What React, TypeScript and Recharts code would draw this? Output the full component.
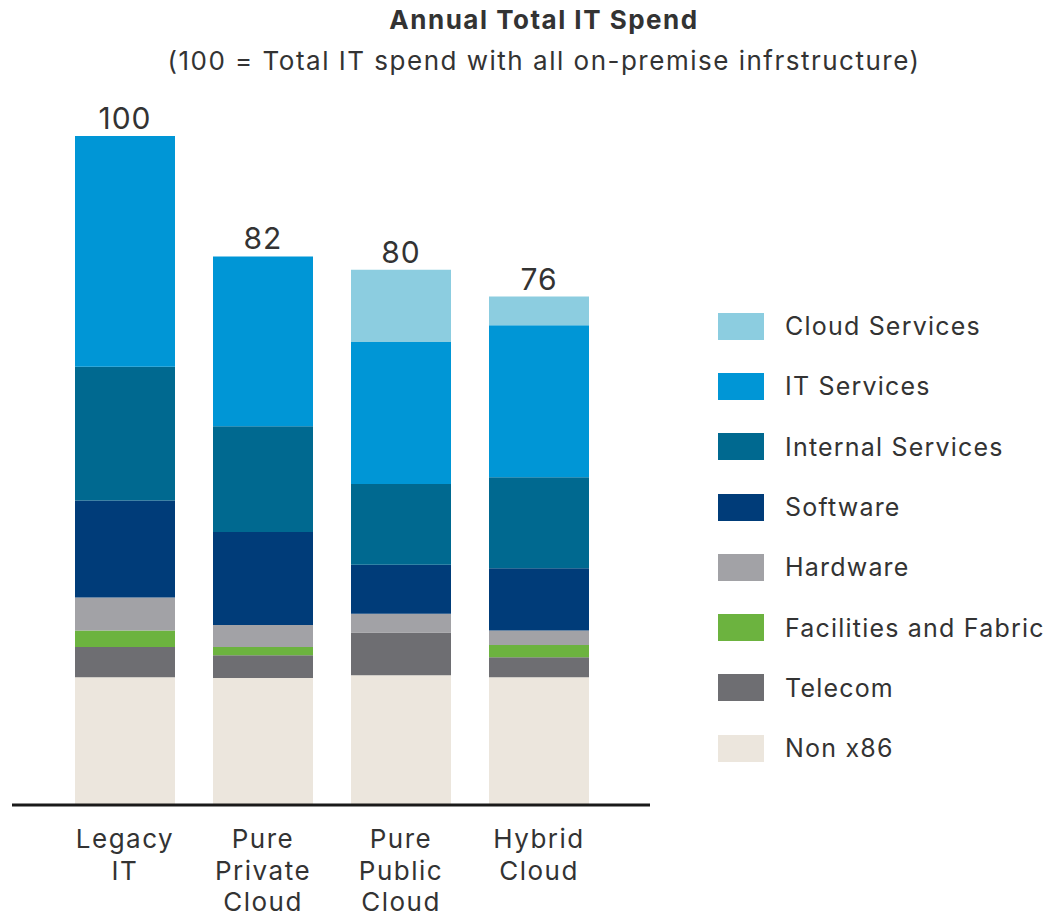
import React from 'react';
import { BarChart, Bar, XAxis, YAxis, LabelList } from 'recharts';

const CATEGORIES = ['Legacy IT', 'Pure Private Cloud', 'Pure Public Cloud', 'Hybrid Cloud'];
const CATEGORY_LINES = [['Legacy', 'IT'], ['Pure', 'Private', 'Cloud'], ['Pure', 'Public', 'Cloud'], ['Hybrid', 'Cloud']];

// values per category, same order as CATEGORIES
const NON_X86 = [19.1, 19.0, 19.4, 19.1];
const TELECOM = [4.5, 3.4, 6.4, 3.0];
const FACILITIES = [2.5, 1.2, 0, 1.8];
const HARDWARE = [4.9, 3.3, 2.8, 2.2];
const SOFTWARE = [14.5, 13.9, 7.3, 9.3];
const INTERNAL_SERVICES = [20.0, 15.8, 12.1, 13.6];
const IT_SERVICES = [34.5, 25.4, 21.2, 22.7];
const CLOUD_SERVICES = [0, 0, 10.8, 4.3];
const TOTALS = [100, 82, 80, 76];

// stack order, bottom to top
const SERIES = [
  { key: 'nonx86', name: 'Non x86', values: NON_X86, color: '#ece6dd' },
  { key: 'telecom', name: 'Telecom', values: TELECOM, color: '#6e6e72' },
  { key: 'facilities', name: 'Facilities and Fabric', values: FACILITIES, color: '#6cb33f' },
  { key: 'hardware', name: 'Hardware', values: HARDWARE, color: '#a2a2a6' },
  { key: 'software', name: 'Software', values: SOFTWARE, color: '#003c79' },
  { key: 'internal', name: 'Internal Services', values: INTERNAL_SERVICES, color: '#006990' },
  { key: 'itservices', name: 'IT Services', values: IT_SERVICES, color: '#0096d6' },
  { key: 'cloud', name: 'Cloud Services', values: CLOUD_SERVICES, color: '#8ccde0' },
];

const FONT = 'Inter, "Noto Sans", sans-serif';
const TEXT = '#333333';

const data = CATEGORIES.map((c, i) => {
  const row: Record<string, any> = { category: c, total: TOTALS[i] };
  SERIES.forEach((s) => (row[s.key] = s.values[i]));
  return row;
});

const CategoryTick = (props: any) => {
  const { x, y, index } = props;
  const lines = CATEGORY_LINES[index] || [];
  return (
    <text x={x} y={y} textAnchor="middle" fill={TEXT} fontSize={26} fontFamily={FONT} letterSpacing={1.5}>
      {lines.map((l, i) => (
        <tspan key={i} x={x} dy={i === 0 ? 35 : 31.5}>
          {l}
        </tspan>
      ))}
    </text>
  );
};

// sits on the bottom segment; the stack top is found from that segment's own px-per-unit
const TotalLabel = (props: any) => {
  const { x, y, width, height, value, index } = props;
  const perUnit = height / value;
  const top = y + height - TOTALS[index] * perUnit;
  return (
    <text x={x + width / 2} y={top - 7} textAnchor="middle" fill={TEXT} fontSize={30} fontFamily={FONT} letterSpacing={1}>
      {TOTALS[index]}
    </text>
  );
};

const LegendBox = () => (
  <div style={{ fontFamily: FONT }}>
    {[...SERIES].reverse().map((s) => (
      <div key={s.key} style={{ display: 'flex', alignItems: 'center', height: 60.3 }}>
        <div style={{ width: 46, height: 27, background: s.color, marginRight: 21, flexShrink: 0 }} />
        <span style={{ fontSize: 25, color: TEXT, letterSpacing: 1.2, whiteSpace: 'nowrap' }}>{s.name}</span>
      </div>
    ))}
  </div>
);

export default function App() {
  return (
    <div style={{ position: 'absolute', left: 0, top: 0, width: 1051, height: 916, background: '#fff', fontFamily: FONT, overflow: 'hidden' }}>
      <div style={{ position: 'absolute', left: 0, width: 1088, top: 4, textAlign: 'center', fontSize: 26, fontWeight: 700, color: TEXT, letterSpacing: 1.5 }}>
        Annual Total IT Spend
      </div>
      <div style={{ position: 'absolute', left: 0, width: 1088, top: 45, textAlign: 'center', fontSize: 26, color: TEXT, letterSpacing: 1.5, whiteSpace: 'nowrap' }}>
        (100 = Total IT spend with all on-premise infrstructure)
      </div>
      <div style={{ position: 'absolute', left: 0, top: 0 }}>
        <BarChart width={660} height={916} data={data} margin={{ top: 136, right: 10, bottom: 0, left: 12 }}>
          <XAxis
            dataKey="category"
            height={111}
            interval={0}
            padding={{ left: 44, right: 42 }}
            axisLine={{ stroke: '#1a1a1a', strokeWidth: 3 }}
            tickLine={false}
            tick={<CategoryTick />}
          />
          <YAxis hide domain={[0, 100]} />
          {SERIES.map((s, i) => (
            <Bar key={s.key} dataKey={s.key} name={s.name} stackId="a" fill={s.color} barSize={100} isAnimationActive={false}>
              {i === 0 && <LabelList dataKey="nonx86" content={<TotalLabel />} />}
            </Bar>
          ))}
        </BarChart>
      </div>
      <div style={{ position: 'absolute', left: 718, top: 296, width: 333 }}>
        <LegendBox />
      </div>
    </div>
  );
}
